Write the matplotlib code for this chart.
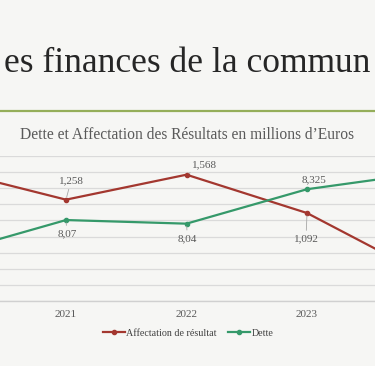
import matplotlib
matplotlib.use("Agg")
import matplotlib.pyplot as plt

years = [2020, 2021, 2022, 2023, 2024]
tick_years = [2021, 2022, 2023]
affectation = [1.635, 1.258, 1.568, 1.092, 0.31]
dette = [7.786, 8.07, 8.04, 8.325, 8.463]
aff_labels = {2021: "1,258", 2022: "1,568", 2023: "1,092"}
dette_labels = {2021: "8,07", 2022: "8,04", 2023: "8,325"}

W, H = 375, 366
fig = plt.figure(figsize=(W / 100, H / 100), dpi=100)
bg = "#F6F6F4"
fig.patch.set_facecolor(bg)
serif = ["Liberation Serif", "DejaVu Serif"]
plt.rcParams["font.family"] = serif

red = "#A3372F"
green = "#35996A"
grey_txt = "#595959"

# slide title (visible part, as in the reference crop)
fig.text(187.5 / W, 1 - 63 / H, "es finances de la commun", fontsize=25.6,
         color="#262626", va="center", ha="center")
# olive rule
fig.add_artist(plt.Line2D([0, 1], [1 - 111 / H, 1 - 111 / H], color="#95AE5A",
                          lw=1.6, transform=fig.transFigure))
# chart title
fig.text(187 / W, 1 - 135 / H, "Dette et Affectation des Résultats en millions d’Euros",
         fontsize=11.2, color=grey_txt, ha="center", va="center")

# axes: 2020 at x=-54.5px, 2024 at 427.5px; y from 301 (bottom) to 156 (top)
left = -54.5 / W
width = 482 / W
bottom = 1 - 301 / H
height = 145 / H
ax = fig.add_axes([left, bottom, width, height])
ax.set_facecolor("none")
ax.set_xlim(2020, 2024)
ax.set_ylim(0, 1.8)
ax.set_yticks([i * 0.2 for i in range(10)])
ax.yaxis.grid(True, color="#DADADA", lw=0.9)
ax.set_axisbelow(True)
for s in ["top", "left", "right"]:
    ax.spines[s].set_visible(False)
ax.spines["bottom"].set_color("#D0D0D0")
ax.spines["bottom"].set_linewidth(1.0)
ax.tick_params(left=False, labelleft=False, bottom=False)
ax.set_xticks(tick_years)
ax.set_xticklabels([str(y) for y in tick_years], fontsize=8, color=grey_txt)
ax.tick_params(axis="x", pad=3)

ax2 = ax.twinx()
ax2.set_ylim(7.4, 8.6)
for s in ax2.spines.values():
    s.set_visible(False)
ax2.tick_params(right=False, labelright=False)

l1, = ax.plot(years, affectation, color=red, lw=1.6, marker="o", ms=3,
              label="Affectation de résultat", clip_on=False)
l2, = ax2.plot(years, dette, color=green, lw=1.6, marker="o", ms=3,
               label="Dette", clip_on=False)

lead = dict(arrowstyle="-", color="#A6A6A6", lw=0.6, shrinkA=1, shrinkB=2)
aff_off = {2021: (5, 19), 2022: (18, 10), 2023: (-1, -26)}
for yr, txt in aff_labels.items():
    v = affectation[years.index(yr)]
    ax.annotate(txt, (yr, v), xytext=aff_off[yr], textcoords="offset pixels",
                ha="center", va="center", fontsize=8, color=grey_txt,
                arrowprops=lead)
det_off = {2021: (1, -14), 2022: (1, -15), 2023: (7, 9)}
for yr, txt in dette_labels.items():
    v = dette[years.index(yr)]
    ax2.annotate(txt, (yr, v), xytext=det_off[yr], textcoords="offset pixels",
                 ha="center", va="center", fontsize=8, color=grey_txt,
                 arrowprops=lead if yr != 2023 else None)

fig.legend(handles=[l1, l2], loc="center", bbox_to_anchor=(188 / W, 1 - 333 / H),
           ncol=2, frameon=False, fontsize=7.2, labelcolor="#404040",
           handlelength=2.2, handletextpad=0.1, columnspacing=1.2)

fig.savefig("out.png", dpi=100, facecolor=bg)
